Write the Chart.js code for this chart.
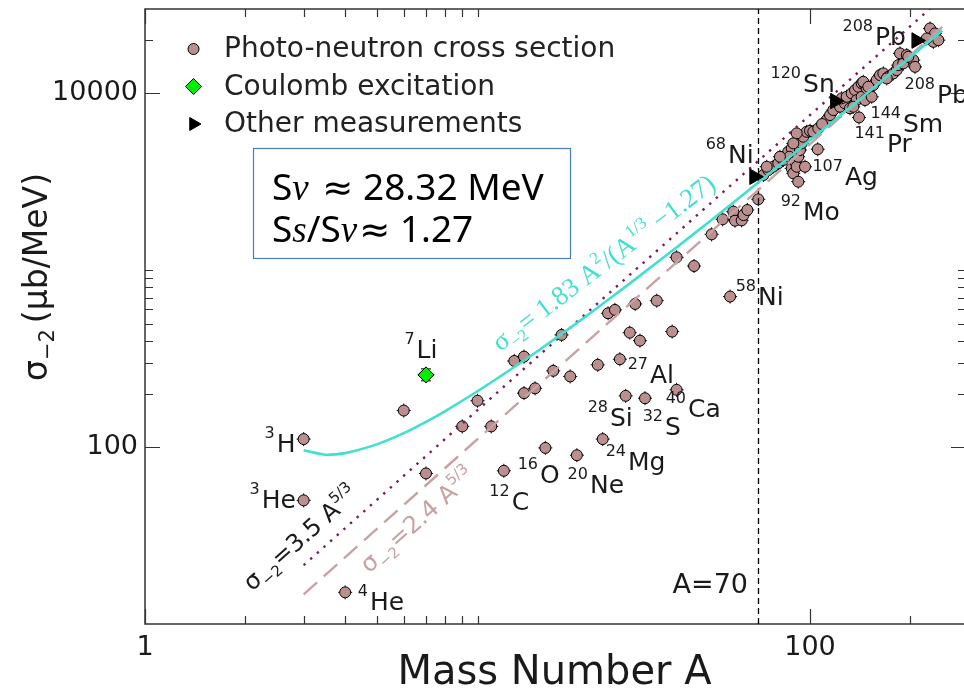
<!DOCTYPE html>
<html>
<head>
<meta charset="utf-8">
<script src="https://cdn.jsdelivr.net/npm/chart.js@4.4.1/dist/chart.umd.min.js"></script>
<style>
  html, body { margin: 0; padding: 0; background: #fff; overflow: hidden; }
  canvas { display: block; }
</style>
</head>
<body>
<canvas id="chart" width="964" height="694"></canvas>
<script>
(function () {
  "use strict";

  // ---- data ----
  var photoA = [3, 3, 4, 6, 7, 9, 10, 11, 12, 12.9, 13.8, 13.8, 14.9, 16, 16.9, 17.9, 19, 19.9,
    23, 23.8, 26.8, 27.9, 31.9, 39.7, 28.7, 30.8, 38.5, 24.7, 25.9, 29.8, 34.6, 39.7, 44.8,
    57.5, 50.6, 54.6, 58.8, 59.5, 62.3, 63.1, 64.8, 69.9, 72.4, 74.9, 77.5, 80.3, 83.1, 86.0,
    88.1, 86.7, 88.1, 89.1, 90.1, 91.2, 92.2, 93.3, 94.4, 92.2, 95.5, 97.7, 100, 102.3, 96.6,
    105.5, 81.2, 74.1, 91.2, 89.1, 112.3, 114.9, 117.5, 123.1, 127.4, 124.5, 128.9, 133.5,
    136.6, 139.8, 143.0, 146.4, 138.2, 143.0, 131.9, 135.0, 151.5, 140.4, 105.9, 108.7,
    146.4, 153.3, 148.1, 155.0, 158.7, 162.4, 166.2, 172.0, 178.1, 182.3, 184.3, 190.8,
    186.5, 195.4, 204.5, 206.9, 197.5, 170.1, 144.6, 149.8, 229.6, 237.7, 234.9, 224.4, 243.2];
  var photoSigma = [111, 50, 15.1, 161, 71, 131, 183, 131, 73.5, 307, 325, 202, 215, 99, 270, 431, 251, 90,
    292, 111, 314, 195, 189, 211, 444, 400, 450, 571, 597, 645, 673, 1184, 1057,
    710, 1596, 1941, 2145, 1906, 1915, 2051, 2192, 2518, 3454, 3687, 3848, 4022, 4201, 4677,
    4891, 4383, 3769, 3532, 4108, 3848, 4383, 4784, 5218, 3168, 5686, 6067, 6147, 6067, 3848,
    4831, 4383, 3848, 5943, 5218, 7067, 7541, 8047, 8403, 8780, 9371, 9568, 10000,
    10438, 10897, 11390, 11140, 9166, 9568, 8230, 8403, 9781, 7311, 6339, 6708,
    9166, 9568, 10670, 11140, 11890, 12690, 12970, 12410, 12970, 13540, 14450, 14780,
    16830, 16460, 15420, 14130, 16100, 12150, 11630, 10897, 23290, 21830, 19560, 20450, 20000];

  var coulombA = [7];
  var coulombSigma = [256];
  var coulombLow = [237];
  var coulombHigh = [277];

  var otherA = [68, 119, 209];
  var otherSigma = [3380, 9050, 19900];

  // fitted curve sigma = 1.83 A^2/(A^1/3 - 1.27)
  var fitA = [3, 3.5, 4, 5, 6, 7, 8, 10, 12, 15, 20, 25, 30, 40, 50, 60, 70, 80, 100, 120, 150, 180, 208, 250];
  var fitSigma = [96, 90.5, 92.5, 104, 120, 139, 160, 207, 259, 344, 507, 692, 897, 1362, 1895, 2491,
    3145, 3854, 5427, 7196, 10184, 13549, 17008, 22700];

  // straight power-law lines
  var lawA = [3, 10, 30, 100, 250];
  var law35 = [21.5, 162, 1014, 7540, 34700];
  var law24 = [14.7, 111, 695, 5170, 23800];

  var cutA = 70;

  var xTicks = [1, 2, 3, 4, 5, 6, 7, 8, 9, 10, 100, 200];
  var xTickLabels = ["1", "", "", "", "", "", "", "", "", "", "100", ""];
  var yTicks = [100, 200, 300, 400, 500, 600, 700, 800, 900, 1000, 10000, 20000];
  var yTickLabels = ["100", "", "", "", "", "", "", "", "", "", "10000", ""];

  // nucleus tags: mass number, symbol, anchor A, anchor sigma (left end of symbol baseline)
  var nucleusTags = [
    ["3", "H", 2.49, 94.1], ["3", "He", 2.244, 45.4], ["4", "He", 4.75, 12.04],
    ["7", "Li", 6.56, 319.6], ["12", "C", 12.67, 44.2], ["16", "O", 15.42, 62.9],
    ["20", "Ne", 21.79, 55.2], ["24", "Mg", 28.36, 74.4], ["28", "Si", 25.03, 131.9],
    ["32", "S", 36.64, 117.3], ["27", "Al", 33.02, 230.8], ["40", "Ca", 42.97, 148.3],
    ["58", "Ni", 69.77, 636.8], ["68", "Ni", 56.67, 4038], ["92", "Mo", 95.3, 1924],
    ["107", "Ag", 127.4, 3033], ["120", "Sn", 95.3, 10210], ["141", "Pr", 170.4, 4660],
    ["144", "Sm", 190.4, 6045], ["208", "Pb", 156.9, 18750], ["208", "Pb", 241, 8814]
  ];
  var cyanTag = [11.7, 345];
  var law35Tag = [2.098, 15.2];
  var law24Tag = [4.717, 19.24];
  var cutTag = [65.1, 15.0];

  var SANS = '"DejaVu Sans", sans-serif';
  var SERIF = '"Liberation Serif", "DejaVu Serif", serif';
  var NOTO = '"Noto Sans", "DejaVu Sans", sans-serif';
  var INK = "#1a1a1a";
  var ROSE = "#bc8f8f";
  var CYAN = "#40e0d0";
  var PURPLE = "#7a1a5e";
  var PINK = "#c8a2a2";

  function pts(xs, ys) {
    return xs.map(function (x, i) { return { x: x, y: ys[i] }; });
  }

  function rich(ctx, parts, x, y) {
    var cx = x;
    parts.forEach(function (p) {
      ctx.font = (p.style ? p.style + " " : "") + p.size + "px " + (p.family || SANS);
      ctx.fillText(p.t, cx, y + (p.dy || 0));
      cx += ctx.measureText(p.t).width + (p.gap || 0);
    });
    return cx;
  }

  function marker(ctx, style, r, x, y, fill, rot) {
    ctx.save();
    ctx.fillStyle = fill;
    ctx.strokeStyle = "#000";
    ctx.lineWidth = 1;
    if (Chart.helpers && Chart.helpers.drawPoint) {
      Chart.helpers.drawPoint(ctx, { pointStyle: style, radius: r, rotation: rot || 0, borderWidth: 1 }, x, y);
    } else {
      ctx.beginPath();
      ctx.arc(x, y, r, 0, Math.PI * 2);
      ctx.fill();
      ctx.stroke();
    }
    ctx.restore();
  }

  function angleOf(chart, a1, s1, a2, s2) {
    var xs = chart.scales.x, ys = chart.scales.y;
    return Math.atan2(ys.getPixelForValue(s2) - ys.getPixelForValue(s1),
      xs.getPixelForValue(a2) - xs.getPixelForValue(a1));
  }

  var framePlugin = {
    id: "frame",
    beforeDatasetsDraw: function (chart) {
      var ctx = chart.ctx, a = chart.chartArea, xs = chart.scales.x, ys = chart.scales.y;
      ctx.save();
      ctx.strokeStyle = "#333";
      ctx.lineWidth = 1.5;
      ctx.beginPath();
      ctx.moveTo(a.right + 5, a.top);
      ctx.lineTo(a.left, a.top);
      ctx.lineTo(a.left, a.bottom);
      ctx.lineTo(a.right + 5, a.bottom);
      ctx.stroke();
      ctx.lineWidth = 1.2;
      ctx.beginPath();
      xTicks.forEach(function (v, i) {
        var len = xTickLabels[i] ? 15 : 8;
        var px = Math.round(xs.getPixelForValue(v)) + 0.5;
        ctx.moveTo(px, a.bottom); ctx.lineTo(px, a.bottom - len);
        ctx.moveTo(px, a.top); ctx.lineTo(px, a.top + len);
      });
      yTicks.forEach(function (v, i) {
        var len = yTickLabels[i] ? 15 : 8;
        var py = Math.round(ys.getPixelForValue(v)) + 0.5;
        ctx.moveTo(a.left, py); ctx.lineTo(a.left + len, py);
        ctx.moveTo(a.right + 2, py); ctx.lineTo(a.right + 2 - len, py);
      });
      ctx.stroke();
      ctx.restore();
    }
  };

  var textPlugin = {
    id: "texts",
    afterDatasetsDraw: function (chart) {
      var ctx = chart.ctx, xs = chart.scales.x, ys = chart.scales.y;
      ctx.save();
      ctx.textBaseline = "alphabetic";

      // coulomb error bar, then redraw the diamond over it
      ctx.strokeStyle = "#000";
      ctx.lineWidth = 1;
      coulombA.forEach(function (a, i) {
        var px = xs.getPixelForValue(a);
        var lo = ys.getPixelForValue(coulombLow[i]), hi = ys.getPixelForValue(coulombHigh[i]);
        ctx.beginPath();
        ctx.moveTo(px - 5, lo); ctx.lineTo(px + 5, lo);
        ctx.moveTo(px - 5, hi); ctx.lineTo(px + 5, hi);
        ctx.stroke();
      });
      chart.getDatasetMeta(1).data.forEach(function (el) { el.draw(ctx); });

      // nucleus tags
      ctx.fillStyle = INK;
      nucleusTags.forEach(function (t) {
        var x = xs.getPixelForValue(t[2]), y = ys.getPixelForValue(t[3]);
        ctx.textAlign = "left";
        ctx.font = "25px " + SANS;
        ctx.fillText(t[1], x, y);
        ctx.textAlign = "right";
        ctx.font = "16px " + SANS;
        ctx.fillText(t[0], x - 2, y - 14);
      });
      ctx.textAlign = "left";

      // A=70
      ctx.font = "27px " + SANS;
      ctx.textAlign = "right";
      ctx.fillText("A=" + cutA, xs.getPixelForValue(cutTag[0]), ys.getPixelForValue(cutTag[1]));
      ctx.textAlign = "left";

      // cyan formula
      var ang = angleOf(chart, fitA[9], fitSigma[9], fitA[15], fitSigma[15]);
      ctx.save();
      ctx.translate(xs.getPixelForValue(cyanTag[0]), ys.getPixelForValue(cyanTag[1]));
      ctx.rotate(ang);
      ctx.fillStyle = CYAN;
      rich(ctx, [
        { t: "\u03c3", size: 27, family: SERIF },
        { t: "\u22122", size: 17, family: SERIF, dy: 6 },
        { t: "= 1.83 A", size: 27, family: SERIF },
        { t: "2", size: 17, family: SERIF, dy: -12 },
        { t: "/(A", size: 27, family: SERIF },
        { t: "1/3", size: 17, family: SERIF, dy: -12 },
        { t: " \u22121.27)", size: 27, family: SERIF }
      ], 0, 0);
      ctx.restore();

      // power law tags
      var lawAng = angleOf(chart, lawA[0], law35[0], lawA[4], law35[4]);
      [[law35Tag, "=3.5 A", INK], [law24Tag, "=2.4 A", PINK]].forEach(function (d) {
        ctx.save();
        ctx.translate(xs.getPixelForValue(d[0][0]), ys.getPixelForValue(d[0][1]));
        ctx.rotate(lawAng);
        ctx.fillStyle = d[2];
        rich(ctx, [
          { t: "\u03c3", size: 24 },
          { t: "\u22122", size: 15, dy: 6 },
          { t: d[1], size: 24 },
          { t: "5/3", size: 15, dy: -11 }
        ], 0, 0);
        ctx.restore();
      });

      // parameter box
      ctx.strokeStyle = "#4a7ebb";
      ctx.lineWidth = 1.2;
      ctx.strokeRect(253.5, 148.5, 317, 110);
      ctx.fillStyle = "#000";
      rich(ctx, [
        { t: "S", size: 37, family: NOTO },
        { t: "v", size: 37, family: SERIF, style: "italic", gap: 4 },
        { t: " \u2248 28.32 MeV", size: 37, family: NOTO }
      ], 272, 200);
      rich(ctx, [
        { t: "S", size: 37, family: NOTO },
        { t: "s", size: 37, family: SERIF, style: "italic" },
        { t: "/S", size: 37, family: NOTO },
        { t: "v", size: 37, family: SERIF, style: "italic", gap: 2 },
        { t: "\u2248 1.27", size: 37, family: NOTO }
      ], 272, 242);

      // legend
      var legendRows = [[6, "circle", 5.5, ROSE, 0], [1, "rectRot", 8, "#00ee00", 0], [0, "triangle", 7.5, "#000", 90]];
      legendRows.forEach(function (r, i) {
        var y = 49 + i * 37.5;
        marker(ctx, r[1], r[2], 193.5, y, r[3], r[4]);
        ctx.fillStyle = "#222";
        ctx.font = "28px " + SANS;
        ctx.textBaseline = "middle";
        ctx.fillText(chart.data.datasets[r[0]].label, 224, y + 1);
        ctx.textBaseline = "alphabetic";
      });

      // y title
      ctx.save();
      ctx.translate(47, 381);
      ctx.rotate(-Math.PI / 2);
      ctx.fillStyle = INK;
      rich(ctx, [
        { t: "\u03c3", size: 33 },
        { t: "\u22122", size: 21, dy: 7, gap: 6 },
        { t: "(\u03bcb/MeV)", size: 33 }
      ], 0, 0);
      ctx.restore();

      ctx.restore();
    }
  };

  var tickFont = { family: SANS, size: 27 };

  new Chart(document.getElementById("chart"), {
    type: "scatter",
    data: {
      datasets: [
        {
          label: "Other measurements",
          data: pts(otherA, otherSigma),
          pointStyle: "triangle",
          rotation: 90,
          pointRadius: 9,
          backgroundColor: "#000",
          borderColor: "#000",
          borderWidth: 1
        },
        {
          label: "Coulomb excitation",
          data: pts(coulombA, coulombSigma),
          pointStyle: "rectRot",
          pointRadius: 8,
          backgroundColor: "#00ee00",
          borderColor: "#000",
          borderWidth: 1
        },
        {
          label: "fit",
          data: pts(fitA, fitSigma),
          showLine: true,
          pointRadius: 0,
          borderColor: CYAN,
          borderWidth: 2.6,
          tension: 0.2
        },
        {
          label: "3.5",
          data: pts(lawA, law35),
          showLine: true,
          pointRadius: 0,
          borderColor: PURPLE,
          borderWidth: 2.4,
          borderDash: [2.4, 6.5]
        },
        {
          label: "2.4",
          data: pts(lawA, law24),
          showLine: true,
          pointRadius: 0,
          borderColor: PINK,
          borderWidth: 2.4,
          borderDash: [18, 9]
        },
        {
          label: "cut",
          data: [{ x: cutA, y: 10 }, { x: cutA, y: 30000 }],
          showLine: true,
          pointRadius: 0,
          borderColor: "#000",
          borderWidth: 1.3,
          borderDash: [6, 4]
        },
        {
          label: "Photo-neutron cross section",
          data: pts(photoA, photoSigma),
          pointStyle: "circle",
          pointRadius: 5.5,
          backgroundColor: ROSE,
          borderColor: "#000",
          borderWidth: 1
        },
        {
          label: "errors",
          data: pts(photoA, photoSigma),
          pointStyle: "cross",
          pointRadius: 7,
          borderColor: "#000",
          borderWidth: 1
        }
      ]
    },
    options: {
      responsive: false,
      animation: false,
      events: [],
      layout: { autoPadding: false, padding: { top: 9, left: 0, right: 0, bottom: 0 } },
      plugins: { legend: { display: false }, tooltip: { enabled: false } },
      scales: {
        x: {
          type: "logarithmic",
          min: 1,
          max: 290.5,
          afterFit: function (s) {
            s.height = 70;
            s.paddingLeft = 0;
            s.paddingRight = 0;
          },
          afterBuildTicks: function (s) {
            s.ticks = xTicks.map(function (v) { return { value: v }; });
          },
          ticks: {
            autoSkip: false,
            maxRotation: 0,
            padding: 8,
            color: INK,
            font: tickFont,
            callback: function (v, i) { return xTickLabels[i]; }
          },
          grid: { display: false, drawTicks: false },
          border: { display: false },
          title: {
            display: true,
            text: "Mass Number A",
            color: INK,
            font: { family: SANS, size: 40, lineHeight: 1 },
            padding: { top: 0, bottom: 0 }
          }
        },
        y: {
          type: "logarithmic",
          min: 10,
          max: 30000,
          afterFit: function (s) {
            s.width = 145;
            s.paddingTop = 0;
            s.paddingBottom = 0;
          },
          afterBuildTicks: function (s) {
            s.ticks = yTicks.map(function (v) { return { value: v }; });
          },
          ticks: {
            autoSkip: false,
            padding: 7,
            color: INK,
            font: tickFont,
            callback: function (v, i) { return yTickLabels[i]; }
          },
          grid: { display: false, drawTicks: false },
          border: { display: false }
        }
      }
    },
    plugins: [framePlugin, textPlugin]
  });
})();
</script>
</body>
</html>
